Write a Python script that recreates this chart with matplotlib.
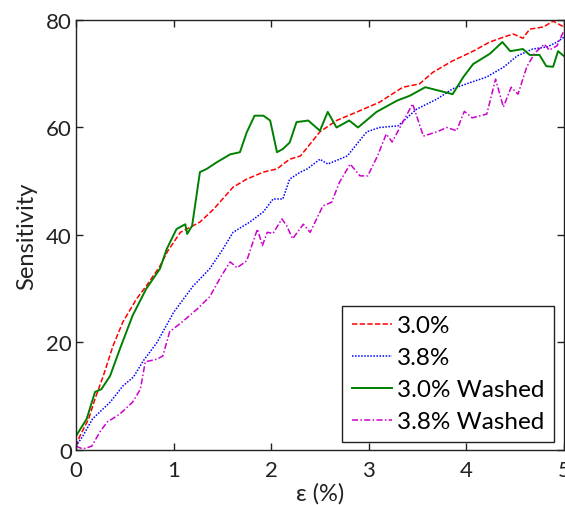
import matplotlib
matplotlib.use("Agg")
import matplotlib.pyplot as plt

plt.rcParams['font.family'] = ['Lato', 'DejaVu Sans']

# 3.0%
x_30 = [0.0, 0.04, 0.13, 0.195, 0.28, 0.38, 0.48, 0.62, 0.72, 0.86, 0.94, 1.07, 1.27, 1.41,
        1.61, 1.75, 1.92, 2.06, 2.19, 2.3, 2.5, 2.67, 2.88, 3.11, 3.35, 3.52, 3.66, 3.86,
        4.07, 4.24, 4.38, 4.48, 4.58, 4.65, 4.79, 4.89, 5.0]
y_30 = [0.7, 2.6, 5.8, 9.5, 13.8, 19.4, 23.8, 28.1, 30.5, 34.2, 37.0, 40.5, 42.4, 44.8,
        48.9, 50.4, 51.7, 52.3, 54.1, 54.7, 59.2, 61.3, 62.9, 64.7, 67.5, 68.1, 70.3, 72.4,
        74.2, 75.9, 76.8, 77.4, 76.6, 78.3, 78.7, 79.8, 78.7]

# 3.8%
x_38 = [0.0, 0.07, 0.17, 0.35, 0.48, 0.59, 0.69, 0.83, 1.0, 1.2, 1.37, 1.51, 1.61, 1.78,
        1.92, 2.02, 2.12, 2.19, 2.3, 2.37, 2.5, 2.58, 2.78, 2.98, 3.11, 3.3, 3.49, 3.7,
        3.86, 4.0, 4.21, 4.38, 4.52, 4.68, 4.83, 4.93, 5.0]
y_38 = [0.7, 2.6, 5.8, 8.9, 11.9, 13.6, 16.6, 20.0, 25.6, 30.5, 33.7, 37.5, 40.5, 42.4,
        44.3, 46.7, 46.7, 50.4, 51.7, 52.3, 54.1, 53.2, 54.7, 59.2, 60.0, 60.3, 63.4, 65.3,
        67.2, 68.1, 69.4, 71.2, 73.3, 74.6, 75.0, 75.9, 76.8]

# 3.0% Washed
x_30w = [0.0, 0.11, 0.195, 0.26, 0.35, 0.45, 0.58, 0.72, 0.86, 0.93, 1.03, 1.12, 1.14, 1.19,
         1.27, 1.34, 1.44, 1.58, 1.68, 1.75, 1.83, 1.92, 1.99, 2.06, 2.12, 2.19, 2.26, 2.38,
         2.5, 2.58, 2.63, 2.67, 2.8, 2.89, 3.08, 3.29, 3.42, 3.58, 3.73, 3.86, 3.97, 4.07,
         4.24, 4.37, 4.45, 4.58, 4.65, 4.75, 4.82, 4.89, 4.94, 5.0]
y_30w = [2.6, 5.8, 10.8, 11.3, 13.8, 18.8, 25.0, 30.0, 33.7, 37.4, 41.1, 42.0, 40.2, 41.7,
         51.7, 52.3, 53.5, 55.0, 55.4, 59.1, 62.2, 62.2, 61.3, 55.4, 56.0, 57.2, 61.0, 61.3,
         59.4, 62.9, 61.3, 60.0, 61.3, 60.0, 62.9, 65.0, 65.9, 67.5, 66.8, 66.2, 69.4, 71.8,
         73.7, 75.9, 74.2, 74.6, 73.5, 73.5, 71.4, 71.3, 74.2, 73.3]

# 3.8% Washed
x_38w = [0.0, 0.07, 0.16, 0.25, 0.32, 0.45, 0.58, 0.66, 0.71, 0.83, 0.89, 0.96, 1.1, 1.24,
         1.37, 1.49, 1.58, 1.65, 1.75, 1.81, 1.86, 1.91, 1.96, 2.02, 2.11, 2.16, 2.22, 2.33,
         2.4, 2.53, 2.62, 2.7, 2.81, 2.91, 2.99, 3.09, 3.18, 3.24, 3.32, 3.45, 3.56, 3.7,
         3.8, 3.9, 3.98, 4.06, 4.21, 4.3, 4.38, 4.46, 4.53, 4.62, 4.7, 4.8, 4.85, 4.93, 5.0]
y_38w = [0.7, 0.2, 0.7, 3.5, 5.2, 6.7, 8.9, 11.3, 16.4, 16.9, 17.5, 22.0, 24.0, 26.2,
         28.5, 32.4, 35.0, 33.9, 35.2, 38.5, 41.1, 38.0, 40.5, 40.3, 43.0, 41.7, 39.3, 42.0,
         40.5, 45.4, 46.1, 49.8, 53.2, 51.0, 51.0, 54.7, 58.8, 57.3, 60.0, 64.4, 58.4, 59.2,
         60.0, 59.4, 63.0, 61.8, 62.5, 69.0, 63.8, 67.5, 66.2, 71.3, 73.8, 75.5, 74.4, 75.2, 78.0]

labels = ['3.0%', '3.8%', '3.0% Washed', '3.8% Washed']
x_ticks = [0, 1, 2, 3, 4, 5]
y_ticks = [0, 20, 40, 60, 80]

fig = plt.figure(figsize=(5.65, 5.06), dpi=100)
ax = fig.add_axes([0.1345, 0.1087, 0.8635, 0.8498])

lw = 1.1
ax.plot(x_30, y_30, color='#FF0000', linestyle=(0, (3.5, 1.5)), lw=lw, label=labels[0])
ax.plot(x_38, y_38, color='#0000FF', linestyle=(0, (1, 1)), lw=lw, label=labels[1])
ax.plot(x_30w, y_30w, color='#008000', linestyle='-', lw=1.4, label=labels[2])
ax.plot(x_38w, y_38w, color='#CC00CC', linestyle=(0, (4, 1.5, 1, 1.5)), lw=lw, label=labels[3])

ax.set_xlim(0, 5)
ax.set_ylim(0, 80)
ax.set_xticks(x_ticks)
ax.set_yticks(y_ticks)
ax.tick_params(direction='in', top=True, right=True, length=5, width=1,
               labelsize=16, colors='#222222')
ax.tick_params(axis='x', pad=7)
ax.tick_params(axis='y', pad=3)
for s in ax.spines.values():
    s.set_linewidth(1.0)
    s.set_color('#222222')

ax.set_xlabel('ε (%)', fontsize=17, color='#222222', labelpad=2)
ax.set_ylabel('Sensitivity', fontsize=17, color='#222222', labelpad=6)

leg = ax.legend(loc='lower right', bbox_to_anchor=(0.98, 0.0186), borderaxespad=0,
                fontsize=17.5, fancybox=False, framealpha=1, edgecolor='#222222',
                handlelength=1.65, handletextpad=0.2, labelspacing=0.45,
                borderpad=0.4)
leg.get_frame().set_linewidth(1.0)

fig.savefig('out.png', dpi=100)
